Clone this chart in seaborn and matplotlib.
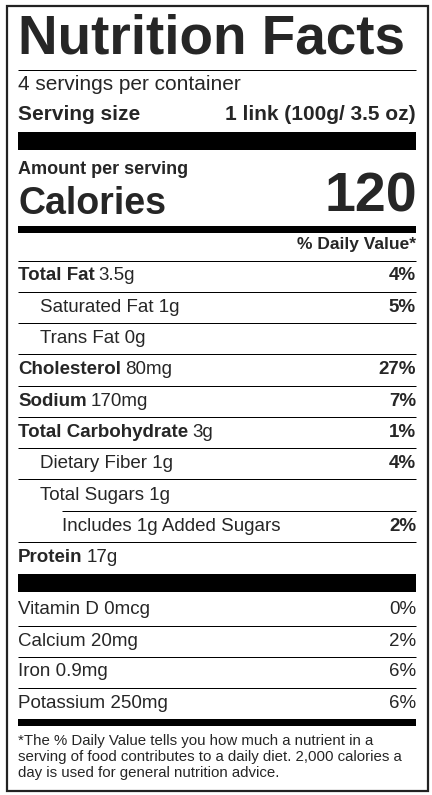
import matplotlib
matplotlib.use("Agg")
import matplotlib.pyplot as plt
import seaborn as sns

sns.set_theme(style="white")
plt.rcParams['font.family'] = ['Liberation Sans', 'DejaVu Sans']

# ---- data ----
servings_text = "4 servings per container"
serving_size = "1 link (100g/ 3.5 oz)"
calories = "120"
names = ["Total Fat", "Saturated Fat", "Trans Fat", "Cholesterol", "Sodium",
         "Total Carbohydrate", "Dietary Fiber", "Total Sugars",
         "Includes 1g Added Sugars", "Protein"]
amounts = ["3.5g", "1g", "0g", "80mg", "170mg", "3g", "1g", "1g", "", "17g"]
dvs = ["4%", "5%", "", "27%", "7%", "1%", "4%", "", "2%", ""]
levels = [0, 1, 1, 0, 0, 0, 1, 1, 2, 0]
vit_names = ["Vitamin D 0mcg", "Calcium 20mg", "Iron 0.9mg", "Potassium 250mg"]
vit_dvs = ["0%", "2%", "6%", "6%"]
footnote = ("*The % Daily Value tells you how much a nutrient in a\n"
            "serving of food contributes to a daily diet. 2,000 calories a\n"
            "day is used for general nutrition advice.")

W, H = 432, 795
fig = plt.figure(figsize=(W / 100, H / 100), dpi=100)
ax = fig.add_axes([0, 0, 1, 1])
ax.set_xlim(0, W)
ax.set_ylim(H, 0)
ax.axis("off")

L, R = 18, 416

def hline(y, lw=1, x0=L):
    ax.plot([x0, R], [y, y], color="black", lw=lw * 0.72, solid_capstyle="butt")

def bar(y0, y1):
    ax.fill_between([L, R], y0, y1, color="black", lw=0)

# border
ax.add_patch(plt.Rectangle((6.5, 5.5), 421, 785, fill=False, ec="#222", lw=1.6))

ax.text(L, 39, "Nutrition Facts", fontsize=39.5, fontweight="bold", va="center", ha="left")
hline(70)
ax.text(L, 85, servings_text, fontsize=15, va="center")
ax.text(L, 114, "Serving size", fontsize=15, fontweight="bold", va="center")
ax.text(R, 114, serving_size, fontsize=15, fontweight="bold", va="center", ha="right")
bar(132, 150)
ax.text(L, 169, "Amount per serving", fontsize=13, fontweight="bold", va="center")
ax.text(L, 204, "Calories", fontsize=27, fontweight="bold", va="center")
ax.text(R + 1, 198, calories, fontsize=40, fontweight="bold", va="center", ha="right")
bar(226, 233)
ax.text(R, 245, "% Daily Value*", fontsize=12.5, fontweight="bold", va="center", ha="right")
hline(261)

indent = {0: L, 1: 40, 2: 62}
y = 276
step = 31.3
for i, (n, a, d, lv) in enumerate(zip(names, amounts, dvs, levels)):
    x = indent[lv]
    if lv == 0:
        t = ax.text(x, y, n, fontsize=13.5, fontweight="bold", va="center")
        if a:
            fig.canvas.draw()
            bb = t.get_window_extent()
            ax.text(x + bb.width + 4, y, a, fontsize=13.5, va="center")
    else:
        ax.text(x, y, (n + " " + a).strip(), fontsize=13.5, va="center")
    if d:
        ax.text(R, y, d, fontsize=13.5, fontweight="bold", va="center", ha="right")
    if i < len(names) - 1:
        nxt = levels[i + 1]
        hline(y + step / 2, x0=62 if nxt == 2 else L)
    y += step

bar(574, 592)
yv = 610
for n, d in zip(vit_names, vit_dvs):
    ax.text(L, yv, n, fontsize=13.5, va="center")
    ax.text(R, yv, d, fontsize=13.5, va="center", ha="right")
    if n != vit_names[-1]:
        hline(yv + 15.5)
    yv += 31
bar(719, 726)
ax.text(L, 757, footnote, fontsize=10.8, va="center", linespacing=1.2)

fig.savefig("out.png", dpi=100, facecolor="white")
